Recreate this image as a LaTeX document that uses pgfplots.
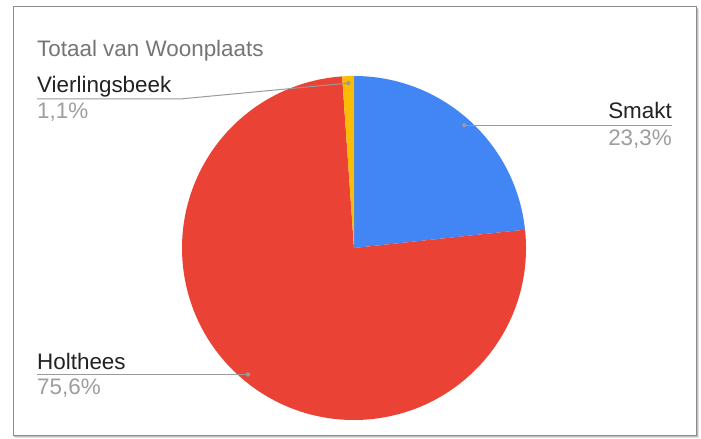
\documentclass[border=0pt]{standalone}
\usepackage{pgfplots}
\pgfplotsset{compat=1.18}
\usepackage{pgfplotstable}
\usepackage{fontspec}
\setmainfont{Liberation Sans}
\definecolor{gblue}{HTML}{4285F4}
\definecolor{gred}{HTML}{EA4335}
\definecolor{gyellow}{HTML}{FBBC04}
\definecolor{labcol}{HTML}{222222}
\definecolor{pctcol}{HTML}{9E9E9E}
\definecolor{titcol}{HTML}{757575}
\definecolor{leadcol}{HTML}{9A9A9A}
\pgfplotstableread{
label value
Smakt 23.3
Holthees 75.6
Vierlingsbeek 1.1
}\piedata
\begin{document}
\begin{tikzpicture}
\pgfplotstablegetelem{0}{value}\of\piedata\let\vA\pgfplotsretval
\pgfplotstablegetelem{1}{value}\of\piedata\let\vB\pgfplotsretval
\pgfplotstablegetelem{2}{value}\of\piedata\let\vC\pgfplotsretval
\pgfmathsetmacro{\aA}{90}
\pgfmathsetmacro{\aB}{\aA-3.6*\vA}
\pgfmathsetmacro{\aC}{\aB-3.6*\vB}
\pgfmathsetmacro{\aD}{\aC-3.6*\vC}
\pgfmathsetmacro{\mA}{(\aA+\aB)/2}
\pgfmathsetmacro{\mB}{(\aB+\aC)/2}
\pgfmathsetmacro{\mC}{(\aC+\aD)/2}
\pgfmathsetmacro{\R}{172}
\pgfmathsetmacro{\cx}{354}
\pgfmathsetmacro{\cy}{191}
\pgfmathsetmacro{\dAx}{\cx+165*cos(\mA)}\pgfmathsetmacro{\dAy}{\cy+165*sin(\mA)}
\pgfmathsetmacro{\dBx}{\cx+165*cos(\mB)}\pgfmathsetmacro{\dBy}{\cy+165*sin(\mB)}
\pgfmathsetmacro{\dCx}{\cx+165*cos(\mC)}\pgfmathsetmacro{\dCy}{\cy+165*sin(\mC)}
\begin{axis}[x=1bp, y=1bp, xmin=0, xmax=701, ymin=0, ymax=439, hide axis, clip=false]
% background and frame
\path[fill=white] (axis cs:0,0) rectangle (axis cs:701,439);
\draw[black!12, line width=1.5bp] (axis cs:15,1.5) -- (axis cs:698.5,1.5) -- (axis cs:698.5,430);
\draw[black!25, line width=1bp] (axis cs:14,2.5) -- (axis cs:697.5,2.5) -- (axis cs:697.5,431);
\draw[black!45, line width=1bp] (axis cs:13,3.5) rectangle (axis cs:696.5,432);
% pie slices
\fill[gblue] (axis cs:\cx,\cy) -- ++(\aA:\R bp) arc[start angle=\aA, end angle=\aB, radius=\R bp] -- cycle;
\fill[gred] (axis cs:\cx,\cy) -- ++(\aB:\R bp) arc[start angle=\aB, end angle=\aC, radius=\R bp] -- cycle;
\fill[gyellow] (axis cs:\cx,\cy) -- ++(\aC:\R bp) arc[start angle=\aC, end angle=\aD, radius=\R bp] -- cycle;
% leader lines
\draw[leadcol, line width=1bp] (axis cs:\dAx,\dAy) -- (axis cs:672,\dAy);
\draw[leadcol, line width=1bp] (axis cs:\dBx,\dBy) -- (axis cs:37,\dBy);
\draw[leadcol, line width=1bp] (axis cs:\dCx,\dCy) -- (axis cs:180,340) -- (axis cs:37,340);
\fill[leadcol] (axis cs:\dAx,\dAy) circle[radius=2.2bp];
\fill[leadcol] (axis cs:\dBx,\dBy) circle[radius=2.2bp];
\fill[leadcol] (axis cs:\dCx,\dCy) circle[radius=2.2bp];
% texts
\node[anchor=base west, inner sep=0pt, text=titcol, font=\fontsize{22.5}{25}\selectfont] at (axis cs:37,382) {Totaal van Woonplaats};
\node[anchor=base west, inner sep=0pt, text=labcol, font=\fontsize{22.5}{25}\selectfont] at (axis cs:37,346) {Vierlingsbeek};
\node[anchor=base west, inner sep=0pt, text=pctcol, font=\fontsize{22.5}{25}\selectfont] at (axis cs:37,320) {1,1\%};
\node[anchor=base east, inner sep=0pt, text=labcol, font=\fontsize{22.5}{25}\selectfont] at (axis cs:672,320) {Smakt};
\node[anchor=base east, inner sep=0pt, text=pctcol, font=\fontsize{22.5}{25}\selectfont] at (axis cs:672,293) {23,3\%};
\node[anchor=base west, inner sep=0pt, text=labcol, font=\fontsize{22.5}{25}\selectfont] at (axis cs:37,69) {Holthees};
\node[anchor=base west, inner sep=0pt, text=pctcol, font=\fontsize{22.5}{25}\selectfont] at (axis cs:37,44) {75,6\%};
\end{axis}
\pgfresetboundingbox
\path[use as bounding box] (current axis.south west) rectangle (current axis.north east);
\end{tikzpicture}
\end{document}
